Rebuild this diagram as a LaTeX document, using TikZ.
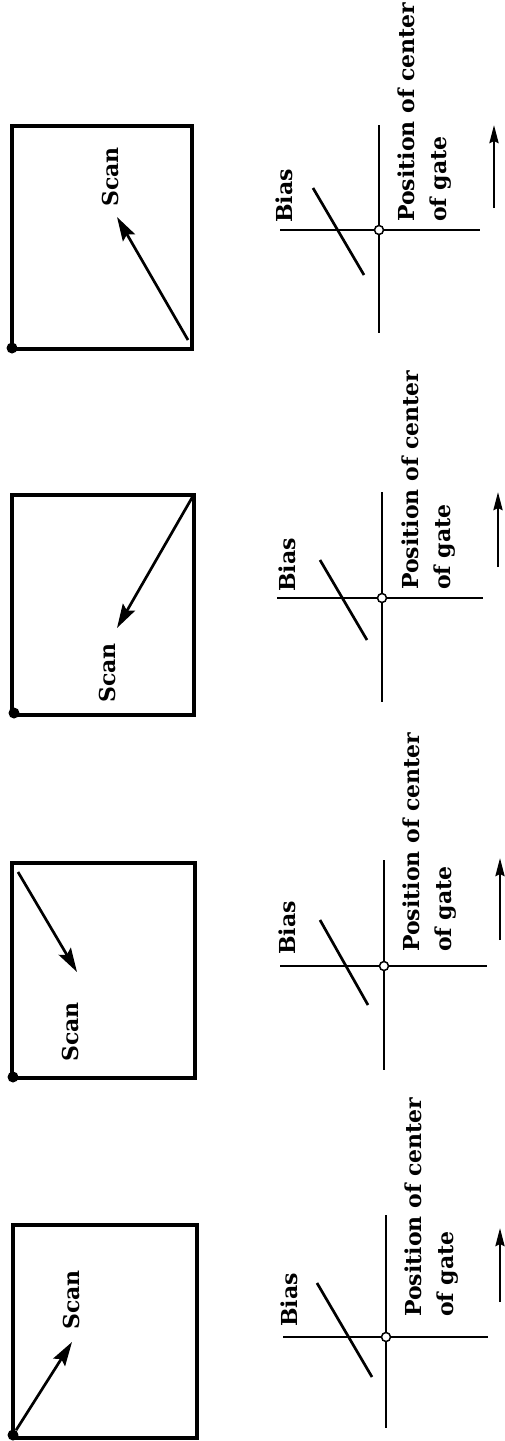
\documentclass[tikz,border=0pt]{standalone}
\usepackage{fontspec}
\setmainfont{DejaVu Serif}
\usetikzlibrary{arrows.meta}
\begin{document}
\begin{tikzpicture}[x=1pt,y=-1pt,
  frame/.style={line width=3.3pt},
  axisline/.style={line width=2.7pt},
  gateline/.style={line width=2.7pt},
  scanarrow/.style={line width=2.7pt,-{Stealth[length=24pt,width=14pt,inset=4pt]}},
  dirarrow/.style={line width=2.7pt,-{Stealth[length=18pt,width=9pt,inset=2pt]}},
  lbl/.style={rotate=90,inner sep=0pt,font=\fontsize{22}{32}\selectfont\bfseries},
  origin/.style={circle,fill=black,inner sep=0pt,minimum size=11pt},
  gatept/.style={circle,draw=black,fill=white,line width=1.5pt,inner sep=0pt,minimum size=9pt}]
\useasboundingbox (0,0) rectangle (504,1441);
\fill[white] (0,0) rectangle (504,1441);

% ---------- Panel 1 ----------
\draw[frame] (12,126) rectangle (192,349);
\node[origin] (o1) at (12,348) {};
\coordinate (a1s) at (188,340);
\coordinate (a1e) at (117,217);
\draw[scanarrow] (a1s) -- (a1e);
\node[lbl,anchor=base west] (s1) at (118,207) {Scan};
\draw[axisline] (280,230) -- (480,230);
\draw[axisline] (379,125) -- (379,333);
\draw[gateline] (313,188) -- (364,275);
\node[gatept] (g1) at (379,230) {};
\node[lbl,anchor=base west] (b1) at (292,223) {Bias};
\node[lbl,anchor=north west,align=left] (p1) at (398,222) {Position of center\\of gate};
\coordinate (d1s) at (494,208);
\coordinate (d1e) at (494,125);
\draw[dirarrow] (d1s) -- (d1e);

% ---------- Panel 2 ----------
\draw[frame] (12,495) rectangle (194,715);
\node[origin] (o2) at (14,713) {};
\coordinate (a2s) at (193,496);
\coordinate (a2e) at (117,628);
\draw[scanarrow] (a2s) -- (a2e);
\node[lbl,anchor=base west] (s2) at (115,703) {Scan};
\draw[axisline] (277,598) -- (483,598);
\draw[axisline] (382,492) -- (382,702);
\draw[gateline] (320,560) -- (367,640);
\node[gatept] (g2) at (382,598) {};
\node[lbl,anchor=base west] (b2) at (295,592) {Bias};
\node[lbl,anchor=north west,align=left] (p2) at (402,590) {Position of center\\of gate};
\coordinate (d2s) at (498,567);
\coordinate (d2e) at (498,492);
\draw[dirarrow] (d2s) -- (d2e);

% ---------- Panel 3 ----------
\draw[frame] (12,863) rectangle (195,1078);
\node[origin] (o3) at (13,1077) {};
\coordinate (a3s) at (18,872);
\coordinate (a3e) at (77,972);
\draw[scanarrow] (a3s) -- (a3e);
\node[lbl,anchor=base west] (s3) at (78,1062) {Scan};
\draw[axisline] (280,966) -- (487,966);
\draw[axisline] (384,860) -- (384,1070);
\draw[gateline] (320,920) -- (368,1005);
\node[gatept] (g3) at (384,966) {};
\node[lbl,anchor=base west] (b3) at (295,955) {Bias};
\node[lbl,anchor=north west,align=left] (p3) at (403,952) {Position of center\\of gate};
\coordinate (d3s) at (500,940);
\coordinate (d3e) at (500,858);
\draw[dirarrow] (d3s) -- (d3e);

% ---------- Panel 4 ----------
\draw[frame] (13,1225) rectangle (197,1438);
\node[origin] (o4) at (13,1435) {};
\coordinate (a4e) at (72,1342);
\draw[scanarrow] (o4) -- (a4e);
\node[lbl,anchor=base west] (s4) at (79,1330) {Scan};
\draw[axisline] (283,1337) -- (488,1337);
\draw[axisline] (386,1215) -- (386,1428);
\draw[gateline] (317,1283) -- (372,1377);
\node[gatept] (g4) at (386,1337) {};
\node[lbl,anchor=base west] (b4) at (297,1327) {Bias};
\node[lbl,anchor=north west,align=left] (p4) at (405,1317) {Position of center\\of gate};
\coordinate (d4s) at (500,1302);
\coordinate (d4e) at (500,1228);
\draw[dirarrow] (d4s) -- (d4e);
\end{tikzpicture}
\end{document}
